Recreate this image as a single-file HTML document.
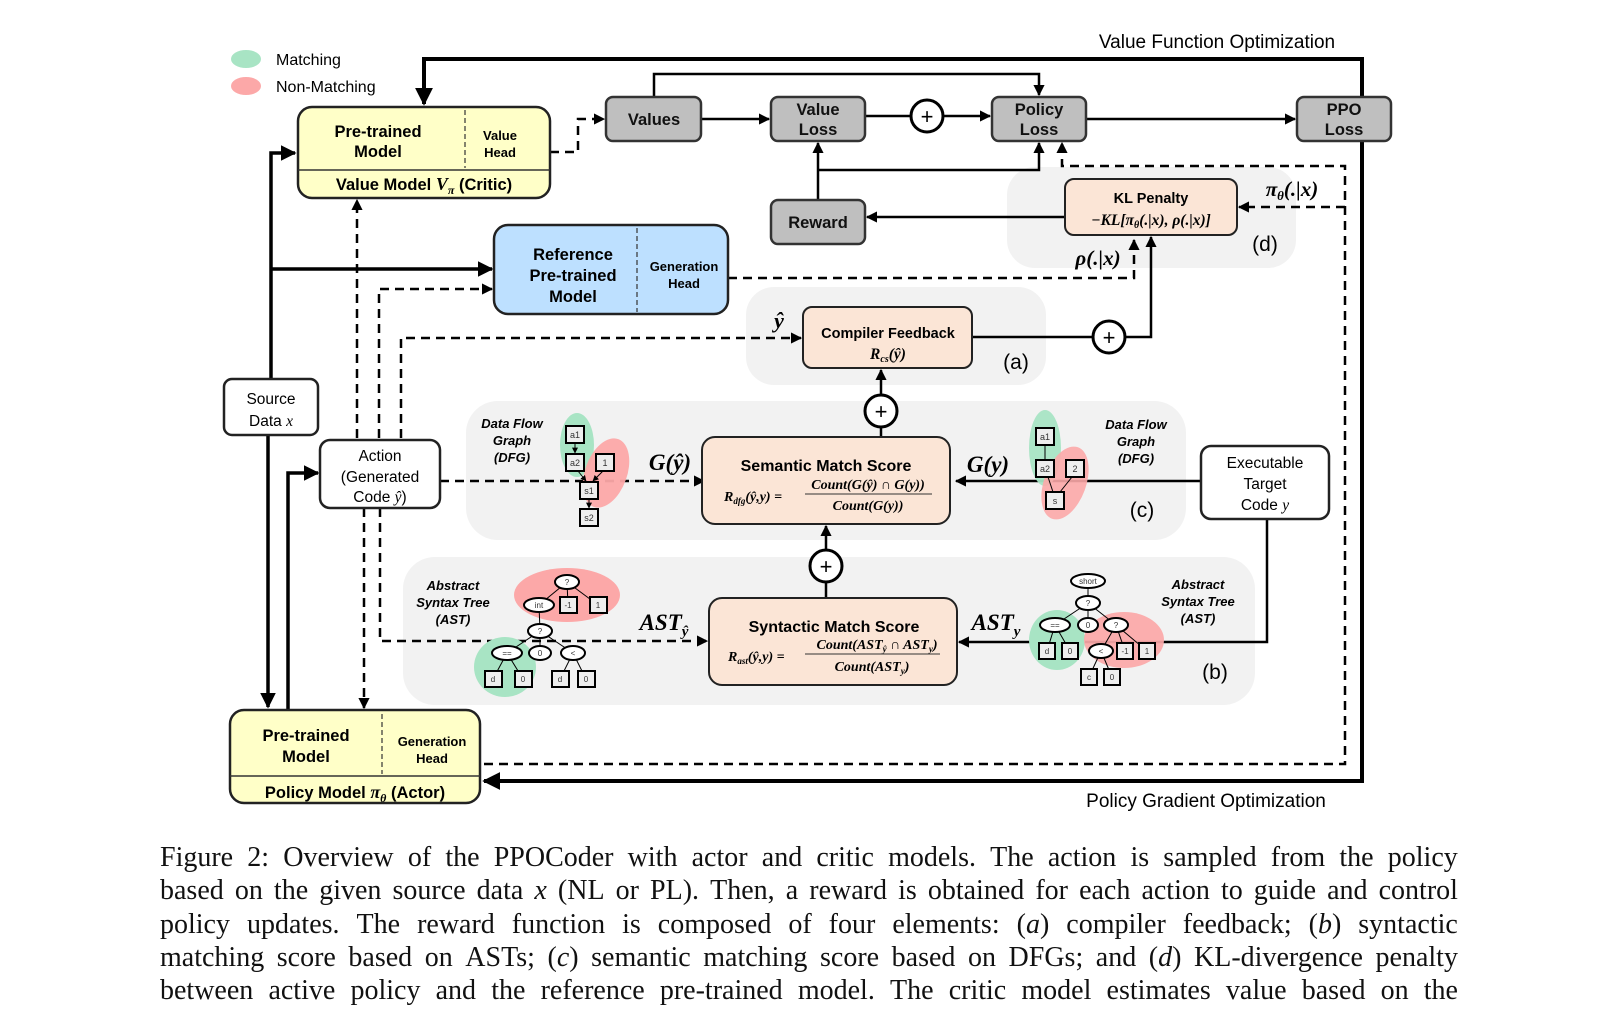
<!DOCTYPE html>
<html><head><meta charset="utf-8"><style>
html,body{margin:0;padding:0;background:#fff;}
svg{display:block;}
.s{font-family:"Liberation Sans",sans-serif;}
.b{font-weight:bold;}
.m{font-family:"Liberation Serif",serif;font-style:italic;font-weight:bold;}
.cap{position:absolute;left:160px;top:841px;width:1298px;font-family:"Liberation Serif",serif;font-size:28px;line-height:33.3px;color:#111;}
.cap div{white-space:nowrap;display:flex;justify-content:space-between;}
</style></head><body>
<div style="position:relative;width:1618px;height:1010px;overflow:hidden;">
<svg width="1618" height="1010" viewBox="0 0 1618 1010" xmlns="http://www.w3.org/2000/svg">
<defs>
<marker id="a" viewBox="0 0 10 10" refX="9" refY="5" markerWidth="4.5" markerHeight="4.5" orient="auto-start-reverse"><path d="M0,0L10,5L0,10z" fill="#000"/></marker>
<marker id="sm" viewBox="0 0 10 10" refX="9" refY="5" markerWidth="6" markerHeight="6" orient="auto"><path d="M0,0L10,5L0,10z" fill="#000"/></marker>
</defs>
<rect x="1007" y="167" width="289" height="101" rx="28" fill="#f2f2f2"/>
<rect x="746" y="287" width="300" height="98" rx="28" fill="#f2f2f2"/>
<rect x="466" y="401" width="720" height="139" rx="32" fill="#f2f2f2"/>
<rect x="403" y="557" width="852" height="148" rx="32" fill="#f2f2f2"/>

<ellipse cx="246" cy="59" rx="15" ry="9" fill="#a8e4c4"/>
<ellipse cx="246" cy="86" rx="15" ry="9" fill="#fca8a8"/>
<text x="276" y="65" class="s" font-size="16">Matching</text>
<text x="276" y="92" class="s" font-size="16">Non-Matching</text>
<text x="1217" y="48" class="s" font-size="19" text-anchor="middle">Value Function Optimization</text>
<text x="1206" y="807" class="s" font-size="19" text-anchor="middle">Policy Gradient Optimization</text>

<g fill="none" stroke="#000">
<path d="M1362,142 V59 H424 V104" stroke-width="4" marker-end="url(#a)"/>
<path d="M1362,142 V781 H484" stroke-width="4" marker-end="url(#a)"/>
<path d="M271,379 V153 H295" stroke-width="3.5" marker-end="url(#a)"/>
<path d="M271,269 H492" stroke-width="3.5" marker-end="url(#a)"/>
<path d="M268,435 V707" stroke-width="3.5" marker-end="url(#a)"/>
<path d="M288,710 V473 H318" stroke-width="3.5" marker-end="url(#a)"/>
<path d="M701,119 H769" stroke-width="2.5" marker-end="url(#a)"/>
<path d="M654,97 V74 H1039 V95" stroke-width="2.5" marker-end="url(#a)"/>
<path d="M865,116 H911" stroke-width="2.5"/>
<path d="M943,116 H990" stroke-width="2.5" marker-end="url(#a)"/>
<path d="M1086,119 H1295" stroke-width="2.5" marker-end="url(#a)"/>
<path d="M818,200 V143" stroke-width="2.5" marker-end="url(#a)"/>
<path d="M818,170 H1039 V143" stroke-width="2.5" marker-end="url(#a)"/>
<path d="M1065,217 H867" stroke-width="2.5" marker-end="url(#a)"/>
<path d="M972,337 H1093" stroke-width="2.5"/>
<path d="M1125,337 H1151 V237" stroke-width="2.5" marker-end="url(#a)"/>
<path d="M881,437 V427" stroke-width="2.5"/>
<path d="M881,395 V370" stroke-width="2.5" marker-end="url(#a)"/>
<path d="M826,598 V582" stroke-width="2.5"/>
<path d="M826,550 V526" stroke-width="2.5" marker-end="url(#a)"/>
<path d="M1200,481 H956" stroke-width="2.5" marker-end="url(#a)"/>
<path d="M1267,519 V642 H959" stroke-width="2.5" marker-end="url(#a)"/>
</g>
<g fill="none" stroke="#000" stroke-width="2.5" stroke-dasharray="9,6">
<path d="M550,152 H578 V119 H604" marker-end="url(#a)"/>
<path d="M357,438 V200" marker-end="url(#a)"/>
<path d="M379,438 V289 H492" marker-end="url(#a)"/>
<path d="M401,438 V338 H801" marker-end="url(#a)"/>
<path d="M728,278 H1134 V240" marker-end="url(#a)"/>
<path d="M484,764 H1345 V166 H1062 V143" marker-end="url(#a)"/>
<path d="M1345,207 H1239" marker-end="url(#a)"/>
<path d="M440,481 H704" marker-end="url(#a)"/>
<path d="M364,508 V708" marker-end="url(#a)"/>
<path d="M380,508 V641 H707" marker-end="url(#a)"/>
</g>

<rect x="298" y="107" width="252" height="91" rx="14" fill="#ffffc8" stroke="#222" stroke-width="2.5"/>
<line x1="298" y1="170" x2="550" y2="170" stroke="#333" stroke-width="1.5"/>
<line x1="465" y1="110" x2="465" y2="168" stroke="#333" stroke-width="1.2" stroke-dasharray="5,3"/>
<text class="s b" font-size="16.5" text-anchor="middle"><tspan x="378" y="137">Pre-trained</tspan><tspan x="378" y="157">Model</tspan></text>
<text class="s b" font-size="13" text-anchor="middle"><tspan x="500" y="140">Value</tspan><tspan x="500" y="157">Head</tspan></text>
<text x="424" y="190" class="s b" font-size="16.5" text-anchor="middle">Value Model <tspan class="m" font-size="18">V</tspan><tspan class="m" font-size="12" dy="4">π</tspan><tspan dy="-4"> (Critic)</tspan></text>

<g fill="#bfbfbf" stroke="#333" stroke-width="2.5">
<rect x="606" y="97" width="95" height="44" rx="7"/>
<rect x="771" y="97" width="94" height="44" rx="7"/>
<rect x="992" y="97" width="94" height="44" rx="7"/>
<rect x="1297" y="97" width="94" height="44" rx="7"/>
<rect x="771" y="200" width="94" height="44" rx="7"/>
</g>
<g class="s b" font-size="16.5" text-anchor="middle" fill="#111">
<text x="654" y="125">Values</text>
<text x="818" y="115">Value</text><text x="818" y="135">Loss</text>
<text x="1039" y="115">Policy</text><text x="1039" y="135">Loss</text>
<text x="1344" y="115">PPO</text><text x="1344" y="135">Loss</text>
<text x="818" y="228">Reward</text>
</g>
<g fill="#fff" stroke="#000" stroke-width="3">
<circle cx="927" cy="116" r="16"/>
<circle cx="1109" cy="337" r="16"/>
<circle cx="881" cy="411" r="16"/>
<circle cx="826" cy="566" r="16"/>
</g>
<g class="s" font-size="22" text-anchor="middle"><text x="927" y="124">+</text><text x="1109" y="345">+</text><text x="881" y="419">+</text><text x="826" y="574">+</text></g>

<rect x="1065" y="179" width="172" height="56" rx="9" fill="#fbe5d6" stroke="#222" stroke-width="2"/>
<text x="1151" y="203" class="s b" font-size="14.5" text-anchor="middle">KL Penalty</text>
<text x="1151" y="225" class="m" font-size="15.5" text-anchor="middle">−KL[π<tspan font-size="10" dy="3">θ</tspan><tspan dy="-3">(.|x), ρ(.|x)]</tspan></text>
<text x="1292" y="196" class="m" font-size="21" text-anchor="middle">π<tspan font-size="13" dy="4">θ</tspan><tspan dy="-4">(.|x)</tspan></text>
<text x="1265" y="251" class="s" font-size="21" text-anchor="middle">(d)</text>
<text x="1098" y="265" class="m" font-size="21" text-anchor="middle">ρ(.|x)</text>

<rect x="494" y="225" width="234" height="89" rx="14" fill="#bde0ff" stroke="#222" stroke-width="2.5"/>
<line x1="637" y1="228" x2="637" y2="312" stroke="#333" stroke-width="1.2" stroke-dasharray="5,3"/>
<text class="s b" font-size="16.5" text-anchor="middle"><tspan x="573" y="260">Reference</tspan><tspan x="573" y="281">Pre-trained</tspan><tspan x="573" y="302">Model</tspan></text>
<text class="s b" font-size="13" text-anchor="middle"><tspan x="684" y="271">Generation</tspan><tspan x="684" y="288">Head</tspan></text>

<rect x="803" y="307" width="169" height="61" rx="9" fill="#fbe5d6" stroke="#222" stroke-width="2"/>
<text x="888" y="338" class="s b" font-size="14.5" text-anchor="middle">Compiler Feedback</text>
<text x="888" y="359" class="m" font-size="15.5" text-anchor="middle">R<tspan font-size="10" dy="3">cs</tspan><tspan dy="-3">(ŷ)</tspan></text>
<text x="1016" y="369" class="s" font-size="21" text-anchor="middle">(a)</text>
<text x="779" y="328" class="m" font-size="22" text-anchor="middle">ŷ</text>

<rect x="224" y="379" width="94" height="56" rx="8" fill="#fff" stroke="#222" stroke-width="2.5"/>
<text class="s" font-size="15.5" text-anchor="middle"><tspan x="271" y="404">Source</tspan><tspan x="271" y="426">Data <tspan font-family="Liberation Serif" font-style="italic">x</tspan></tspan></text>
<rect x="320" y="440" width="120" height="68" rx="10" fill="#fff" stroke="#222" stroke-width="2.5"/>
<text class="s" font-size="15.5" text-anchor="middle"><tspan x="380" y="461">Action</tspan><tspan x="380" y="482">(Generated</tspan><tspan x="380" y="502">Code <tspan font-family="Liberation Serif" font-style="italic">ŷ</tspan>)</tspan></text>
<rect x="1201" y="446" width="128" height="73" rx="10" fill="#fff" stroke="#222" stroke-width="2.5"/>
<text class="s" font-size="15.5" text-anchor="middle"><tspan x="1265" y="468">Executable</tspan><tspan x="1265" y="489">Target</tspan><tspan x="1265" y="510">Code <tspan font-family="Liberation Serif" font-style="italic">y</tspan></tspan></text>

<rect x="702" y="437" width="248" height="87" rx="13" fill="#fbe5d6" stroke="#222" stroke-width="2"/>
<text x="826" y="471" class="s b" font-size="16" text-anchor="middle">Semantic Match Score</text>
<text x="724" y="501" class="m" font-size="14">R<tspan font-size="9" dy="3">dfg</tspan><tspan dy="-3">(ŷ,y) =</tspan></text>
<text x="868" y="489" class="m" font-size="14" text-anchor="middle">Count(G(ŷ) ∩ G(y))</text>
<line x1="805" y1="494" x2="932" y2="494" stroke="#333" stroke-width="1"/>
<text x="868" y="510" class="m" font-size="14" text-anchor="middle">Count(G(y))</text>
<text x="670" y="470" class="m" font-size="23" text-anchor="middle">G(ŷ)</text>
<text x="988" y="472" class="m" font-size="23" text-anchor="middle">G(y)</text>

<rect x="709" y="598" width="248" height="87" rx="13" fill="#fbe5d6" stroke="#222" stroke-width="2"/>
<text x="834" y="632" class="s b" font-size="16" text-anchor="middle">Syntactic Match Score</text>
<text x="728" y="661" class="m" font-size="14">R<tspan font-size="9" dy="3">ast</tspan><tspan dy="-3">(ŷ,y) =</tspan></text>
<text x="877" y="649" class="m" font-size="14" text-anchor="middle">Count(AST<tspan font-size="9" dy="3">ŷ</tspan><tspan dy="-3"> ∩ AST</tspan><tspan font-size="9" dy="3">y</tspan><tspan dy="-3">)</tspan></text>
<line x1="805" y1="654" x2="940" y2="654" stroke="#333" stroke-width="1"/>
<text x="872" y="671" class="m" font-size="14" text-anchor="middle">Count(AST<tspan font-size="9" dy="3">y</tspan><tspan dy="-3">)</tspan></text>
<text x="664" y="630" class="m" font-size="23" text-anchor="middle">AST<tspan font-size="15" dy="6">ŷ</tspan></text>
<text x="996" y="630" class="m" font-size="23" text-anchor="middle">AST<tspan font-size="15" dy="6">y</tspan></text>

<rect x="230" y="710" width="250" height="93" rx="14" fill="#ffffc8" stroke="#222" stroke-width="2.5"/>
<line x1="230" y1="776" x2="480" y2="776" stroke="#333" stroke-width="1.5"/>
<line x1="382" y1="714" x2="382" y2="774" stroke="#333" stroke-width="1.2" stroke-dasharray="5,3"/>
<text class="s b" font-size="16.5" text-anchor="middle"><tspan x="306" y="741">Pre-trained</tspan><tspan x="306" y="762">Model</tspan></text>
<text class="s b" font-size="13" text-anchor="middle"><tspan x="432" y="746">Generation</tspan><tspan x="432" y="763">Head</tspan></text>
<text x="355" y="798" class="s b" font-size="16.5" text-anchor="middle">Policy Model <tspan class="m" font-size="18">π</tspan><tspan class="m" font-size="12" dy="4">θ</tspan><tspan dy="-4"> (Actor)</tspan></text>

<g class="s b" font-size="13" font-style="italic" text-anchor="middle">
<text x="512" y="428">Data Flow</text><text x="512" y="445">Graph</text><text x="512" y="462">(DFG)</text>
<text x="1136" y="429">Data Flow</text><text x="1136" y="446">Graph</text><text x="1136" y="463">(DFG)</text>
<text x="453" y="590">Abstract</text><text x="453" y="607">Syntax Tree</text><text x="453" y="624">(AST)</text>
<text x="1198" y="589">Abstract</text><text x="1198" y="606">Syntax Tree</text><text x="1198" y="623">(AST)</text>
</g>
<text x="1142" y="517" class="s" font-size="21" text-anchor="middle">(c)</text>
<text x="1215" y="679" class="s" font-size="21" text-anchor="middle">(b)</text>

<ellipse cx="577" cy="445" rx="17" ry="32" fill="#a8e4c4"/>
<ellipse cx="606" cy="473" rx="21" ry="36" transform="rotate(20 606 473)" fill="#fca8a8" opacity="0.95"/>
<g stroke="#000" stroke-width="1" marker-end="url(#sm)"><line x1="575" y1="443" x2="575" y2="453"/><line x1="578" y1="471" x2="586" y2="481"/><line x1="603" y1="471" x2="593" y2="481"/><line x1="589" y1="499" x2="589" y2="508"/></g>
<g fill="#eee" stroke="#000" stroke-width="2">
<rect x="566" y="426" width="18" height="17"/><rect x="566" y="454" width="18" height="17"/><rect x="596" y="454" width="18" height="17"/><rect x="580" y="482" width="18" height="17"/><rect x="580" y="509" width="18" height="17"/>
</g>
<g class="s" font-size="9" text-anchor="middle" fill="#333"><text x="575" y="438">a1</text><text x="575" y="466">a2</text><text x="605" y="466">1</text><text x="589" y="494">s1</text><text x="589" y="521">s2</text></g>

<ellipse cx="1045" cy="448" rx="16" ry="38" fill="#a8e4c4" opacity="0.95"/>
<ellipse cx="1065" cy="483" rx="21" ry="38" transform="rotate(20 1065 483)" fill="#fca8a8" opacity="0.9"/>
<g fill="#eee" stroke="#000" stroke-width="2"><rect x="1036" y="428" width="18" height="17"/><rect x="1036" y="460" width="18" height="17"/><rect x="1066" y="460" width="18" height="17"/><rect x="1046" y="492" width="18" height="17"/></g>
<g stroke="#000" stroke-width="1"><line x1="1045" y1="445" x2="1045" y2="460"/><line x1="1048" y1="477" x2="1053" y2="492"/><line x1="1072" y1="477" x2="1060" y2="492"/></g>
<g class="s" font-size="9" text-anchor="middle" fill="#333"><text x="1045" y="440">a1</text><text x="1045" y="472">a2</text><text x="1075" y="472">2</text><text x="1055" y="504">s</text></g>

<ellipse cx="567" cy="595" rx="53" ry="27" fill="#fca8a8"/>
<ellipse cx="505" cy="667" rx="31" ry="30" fill="#a8e4c4"/>
<g stroke="#000" stroke-width="1">
<line x1="567" y1="582" x2="539" y2="605"/><line x1="567" y1="582" x2="568" y2="605"/><line x1="567" y1="582" x2="598" y2="605"/>
<line x1="539" y1="605" x2="540" y2="631"/><line x1="540" y1="631" x2="507" y2="653"/><line x1="540" y1="631" x2="540" y2="653"/><line x1="540" y1="631" x2="573" y2="653"/>
<line x1="507" y1="653" x2="493" y2="679"/><line x1="507" y1="653" x2="523" y2="679"/><line x1="573" y1="653" x2="560" y2="679"/><line x1="573" y1="653" x2="586" y2="679"/>
</g>
<g fill="#fff" stroke="#000" stroke-width="2">
<ellipse cx="567" cy="582" rx="12" ry="7"/><ellipse cx="539" cy="605" rx="15" ry="7"/><ellipse cx="540" cy="631" rx="12" ry="7"/>
<ellipse cx="507" cy="653" rx="15" ry="7"/><ellipse cx="540" cy="653" rx="11" ry="7"/><ellipse cx="573" cy="653" rx="12" ry="7"/>
</g>
<g fill="#eee" stroke="#000" stroke-width="2">
<rect x="560" y="597" width="17" height="16"/><rect x="590" y="597" width="17" height="16"/>
<rect x="485" y="671" width="17" height="16"/><rect x="515" y="671" width="17" height="16"/><rect x="552" y="671" width="17" height="16"/><rect x="578" y="671" width="17" height="16"/>
</g>
<g class="s" font-size="8" text-anchor="middle" fill="#333">
<text x="567" y="585">?</text><text x="539" y="608">int</text><text x="568" y="608">-1</text><text x="598" y="608">1</text><text x="540" y="634">?</text>
<text x="507" y="656">==</text><text x="540" y="656">0</text><text x="573" y="656">&lt;</text>
<text x="493" y="682">d</text><text x="523" y="682">0</text><text x="560" y="682">d</text><text x="586" y="682">0</text>
</g>

<ellipse cx="1057" cy="640" rx="28" ry="30" fill="#a8e4c4"/>
<ellipse cx="1124" cy="640" rx="40" ry="28" fill="#fca8a8" opacity="0.92"/>
<g stroke="#000" stroke-width="1">
<line x1="1088" y1="581" x2="1088" y2="603"/><line x1="1088" y1="603" x2="1055" y2="625"/><line x1="1088" y1="603" x2="1088" y2="625"/><line x1="1088" y1="603" x2="1116" y2="625"/>
<line x1="1055" y1="625" x2="1047" y2="651"/><line x1="1055" y1="625" x2="1070" y2="651"/>
<line x1="1116" y1="625" x2="1101" y2="651"/><line x1="1116" y1="625" x2="1125" y2="651"/><line x1="1116" y1="625" x2="1147" y2="651"/>
<line x1="1101" y1="651" x2="1089" y2="677"/><line x1="1101" y1="651" x2="1112" y2="677"/>
</g>
<g fill="#fff" stroke="#000" stroke-width="2">
<ellipse cx="1088" cy="581" rx="17" ry="7"/><ellipse cx="1088" cy="603" rx="12" ry="7"/>
<ellipse cx="1055" cy="625" rx="15" ry="7"/><ellipse cx="1088" cy="625" rx="10" ry="7"/><ellipse cx="1116" cy="625" rx="12" ry="7"/>
<ellipse cx="1101" cy="651" rx="12" ry="7"/>
</g>
<g fill="#eee" stroke="#000" stroke-width="2">
<rect x="1039" y="643" width="16" height="16"/><rect x="1062" y="643" width="16" height="16"/><rect x="1117" y="643" width="16" height="16"/><rect x="1139" y="643" width="16" height="16"/>
<rect x="1081" y="669" width="16" height="16"/><rect x="1104" y="669" width="16" height="16"/>
</g>
<g class="s" font-size="8" text-anchor="middle" fill="#333">
<text x="1088" y="584">short</text><text x="1088" y="606">?</text><text x="1055" y="628">==</text><text x="1088" y="628">0</text><text x="1116" y="628">?</text>
<text x="1047" y="654">d</text><text x="1070" y="654">0</text><text x="1101" y="654">&lt;</text><text x="1125" y="654">-1</text><text x="1147" y="654">1</text>
<text x="1089" y="680">c</text><text x="1112" y="680">0</text>
</g>
</svg>
<div class="cap">
<div><span>Figure</span><span>2:</span><span>Overview</span><span>of</span><span>the</span><span>PPOCoder</span><span>with</span><span>actor</span><span>and</span><span>critic</span><span>models.</span><span>The</span><span>action</span><span>is</span><span>sampled</span><span>from</span><span>the</span><span>policy</span></div>
<div><span>based</span><span>on</span><span>the</span><span>given</span><span>source</span><span>data</span><span><i>x</i></span><span>(NL</span><span>or</span><span>PL).</span><span>Then,</span><span>a</span><span>reward</span><span>is</span><span>obtained</span><span>for</span><span>each</span><span>action</span><span>to</span><span>guide</span><span>and</span><span>control</span></div>
<div><span>policy</span><span>updates.</span><span>The</span><span>reward</span><span>function</span><span>is</span><span>composed</span><span>of</span><span>four</span><span>elements:</span><span>(<i>a</i>)</span><span>compiler</span><span>feedback;</span><span>(<i>b</i>)</span><span>syntactic</span></div>
<div><span>matching</span><span>score</span><span>based</span><span>on</span><span>ASTs;</span><span>(<i>c</i>)</span><span>semantic</span><span>matching</span><span>score</span><span>based</span><span>on</span><span>DFGs;</span><span>and</span><span>(<i>d</i>)</span><span>KL-divergence</span><span>penalty</span></div>
<div><span>between</span><span>active</span><span>policy</span><span>and</span><span>the</span><span>reference</span><span>pre-trained</span><span>model.</span><span>The</span><span>critic</span><span>model</span><span>estimates</span><span>value</span><span>based</span><span>on</span><span>the</span></div>
</div>
</div>
</body></html>
